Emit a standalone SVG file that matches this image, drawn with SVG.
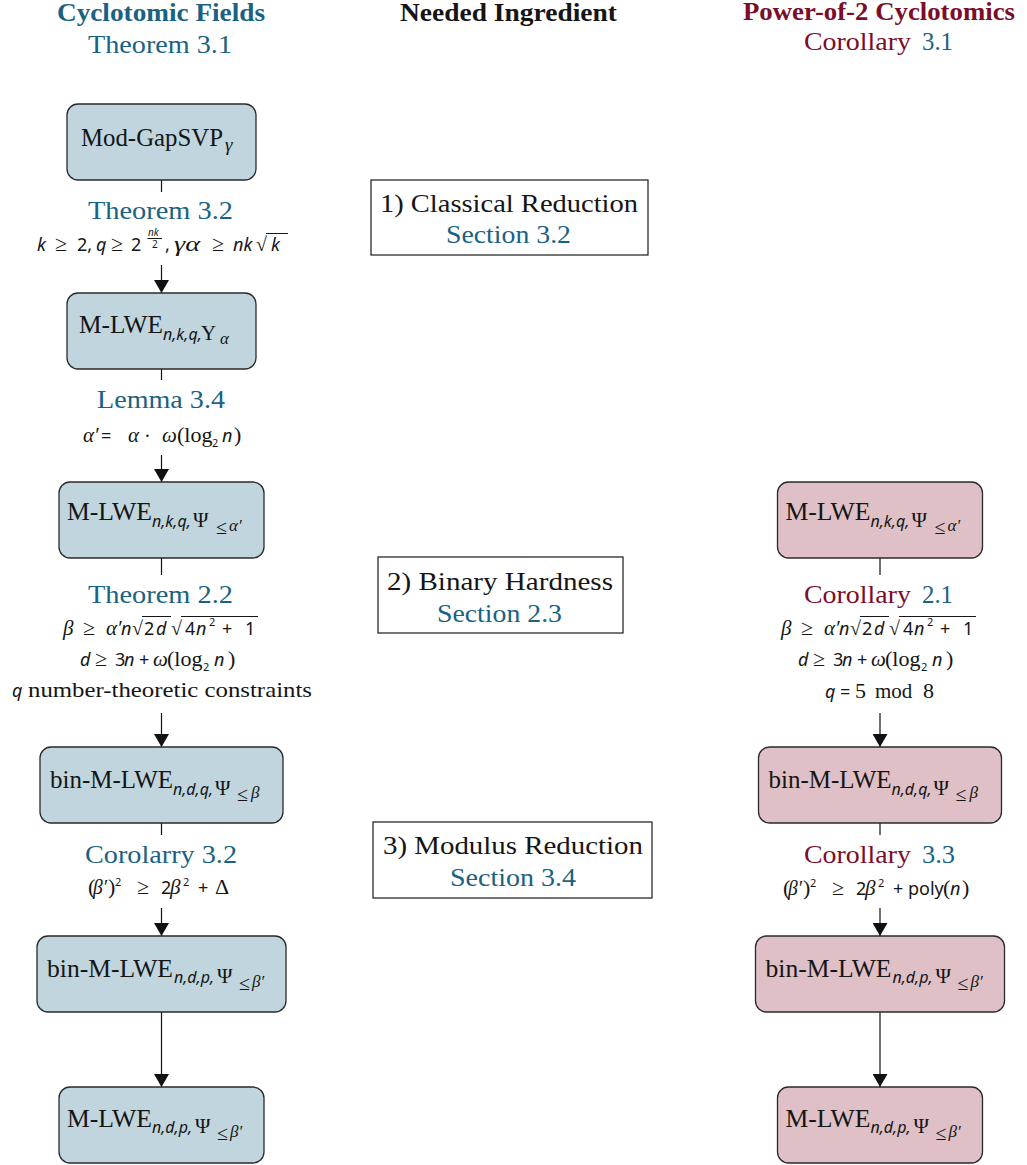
<svg xmlns="http://www.w3.org/2000/svg" width="1027" height="1165" viewBox="0 0 1027 1165" font-family="'Liberation Serif', serif">
<style>
text{fill:#151515}
.headt{font-weight:bold;font-size:25px}
.capt{font-size:25px;fill:#1a6282}
.tred{fill:#7b0d29}
.tblue{fill:#1a6282}
.ingt{font-size:25px}
.nb rect{fill:#c0d5de;stroke:#2a2a2a;stroke-width:1.3}
.np rect{fill:#dfc0c6;stroke:#2a2a2a;stroke-width:1.3}
.nodet{font-size:25px}
.subit{font-family:"Noto Sans",sans-serif;font-style:italic;font-size:16px}
.subgk{font-size:21px}
.ssubgk{font-style:italic;font-size:17px}
.ssubrm{font-size:20px}
.mathit{font-family:"Noto Sans",sans-serif;font-style:italic;font-size:18px}
.mathsf{font-family:"Noto Sans",sans-serif;font-size:18px}
.mathgk{font-style:italic;font-size:21px}
.mathrm{font-size:22px}
.supsf{font-family:"Noto Sans",sans-serif;font-size:11px}
.mid rect{fill:#ffffff;stroke:#1a1a1a;stroke-width:1.2}
.conn line{stroke:#111;stroke-width:1.2}
.ovl{stroke:#151515;stroke-width:1}
</style>
<defs>
<marker id="ah" markerUnits="userSpaceOnUse" markerWidth="15" markerHeight="15" refX="13" refY="7.5" orient="auto">
<path d="M0,0 L13,7.5 L0,15 z" fill="#111"/>
</marker>
</defs>
<rect width="1027" height="1165" fill="#ffffff"/>

<g id="headers">
<text class="headt tblue" x="57" y="21" textLength="208" lengthAdjust="spacingAndGlyphs">Cyclotomic Fields</text>
<text class="capt" x="88" y="53" textLength="144" lengthAdjust="spacingAndGlyphs">Theorem 3.1</text>
<text class="headt" x="400" y="21" textLength="217" lengthAdjust="spacingAndGlyphs">Needed Ingredient</text>
<text class="headt tred" x="743" y="20" textLength="272" lengthAdjust="spacingAndGlyphs">Power-of-2 Cyclotomics</text>
<text class="capt tred" x="804" y="50" textLength="107" lengthAdjust="spacingAndGlyphs">Corollary</text>
<text class="capt" x="922" y="50" textLength="31" lengthAdjust="spacingAndGlyphs">3.1</text>
</g>

<g id="connectors" class="conn">
<line x1="161.5" y1="180" x2="161.5" y2="192"/>
<line x1="161.5" y1="265" x2="161.5" y2="293" marker-end="url(#ah)"/>
<line x1="161.5" y1="369" x2="161.5" y2="380"/>
<line x1="161.5" y1="455" x2="161.5" y2="482" marker-end="url(#ah)"/>
<line x1="161.5" y1="558" x2="161.5" y2="575"/>
<line x1="161.5" y1="713" x2="161.5" y2="747" marker-end="url(#ah)"/>
<line x1="161.5" y1="823" x2="161.5" y2="835"/>
<line x1="161.5" y1="908" x2="161.5" y2="936" marker-end="url(#ah)"/>
<line x1="161.5" y1="1012" x2="161.5" y2="1087" marker-end="url(#ah)"/>
<line x1="880" y1="558" x2="880" y2="575"/>
<line x1="880" y1="713" x2="880" y2="747" marker-end="url(#ah)"/>
<line x1="880" y1="823" x2="880" y2="835"/>
<line x1="880" y1="908" x2="880" y2="936" marker-end="url(#ah)"/>
<line x1="880" y1="1012" x2="880" y2="1087" marker-end="url(#ah)"/>
</g>

<g id="n1" class="nb">
<rect x="67" y="104" width="189" height="76" rx="11"/>
<text class="nodet" x="81" y="146" textLength="142" lengthAdjust="spacingAndGlyphs">Mod-GapSVP</text>
<text class="mathgk" x="225" y="151" style="font-size:19px">γ</text>
</g>
<g id="n2" class="nb">
<rect x="67" y="293" width="189" height="76" rx="11"/>
<text class="nodet" x="79" y="333" textLength="84" lengthAdjust="spacingAndGlyphs">M-LWE</text>
<text class="subit" x="163" y="340">n,k,q,</text>
<text class="subgk" x="201" y="340">Υ</text>
<text class="ssubgk" x="220" y="344">α</text>
</g>
<g id="n3" class="nb">
<rect x="59" y="482" width="205" height="76" rx="11"/>
<text class="nodet" x="67" y="520" textLength="85" lengthAdjust="spacingAndGlyphs">M-LWE</text>
<text class="subit" x="152" y="527">n,k,q,</text>
<text class="subgk" x="193" y="527">Ψ</text>
<text class="ssubrm" x="216" y="534">≤</text>
<text class="ssubgk" x="229" y="531">α′</text>
</g>
<g id="n4" class="nb">
<rect x="40" y="747" width="243" height="76" rx="11"/>
<text class="nodet" x="50" y="788" textLength="123" lengthAdjust="spacingAndGlyphs">bin-M-LWE</text>
<text class="subit" x="173" y="795">n,d,q,</text>
<text class="subgk" x="215" y="795">Ψ</text>
<text class="ssubrm" x="237" y="801">≤</text>
<text class="ssubgk" x="251" y="798">β</text>
</g>
<g id="n5" class="nb">
<rect x="37" y="936" width="249" height="76" rx="11"/>
<text class="nodet" x="47" y="977" textLength="126" lengthAdjust="spacingAndGlyphs">bin-M-LWE</text>
<text class="subit" x="174" y="983">n,d,p,</text>
<text class="subgk" x="217" y="983">Ψ</text>
<text class="ssubrm" x="239" y="990">≤</text>
<text class="ssubgk" x="252" y="987">β′</text>
</g>
<g id="n6" class="nb">
<rect x="59" y="1087" width="205" height="76" rx="11"/>
<text class="nodet" x="67" y="1127" textLength="85" lengthAdjust="spacingAndGlyphs">M-LWE</text>
<text class="subit" x="152" y="1133">n,d,p,</text>
<text class="subgk" x="195" y="1133">Ψ</text>
<text class="ssubrm" x="217" y="1140">≤</text>
<text class="ssubgk" x="230" y="1137">β′</text>
</g>

<g id="r3" class="np" transform="translate(718.5,0)">
<rect x="59" y="482" width="205" height="76" rx="11"/>
<text class="nodet" x="67" y="520" textLength="85" lengthAdjust="spacingAndGlyphs">M-LWE</text>
<text class="subit" x="152" y="527">n,k,q,</text>
<text class="subgk" x="193" y="527">Ψ</text>
<text class="ssubrm" x="216" y="534">≤</text>
<text class="ssubgk" x="229" y="531">α′</text>
</g>
<g id="r4" class="np" transform="translate(718.5,0)">
<rect x="40" y="747" width="243" height="76" rx="11"/>
<text class="nodet" x="50" y="788" textLength="123" lengthAdjust="spacingAndGlyphs">bin-M-LWE</text>
<text class="subit" x="173" y="795">n,d,q,</text>
<text class="subgk" x="215" y="795">Ψ</text>
<text class="ssubrm" x="237" y="801">≤</text>
<text class="ssubgk" x="251" y="798">β</text>
</g>
<g id="r5" class="np" transform="translate(718.5,0)">
<rect x="37" y="936" width="249" height="76" rx="11"/>
<text class="nodet" x="47" y="977" textLength="126" lengthAdjust="spacingAndGlyphs">bin-M-LWE</text>
<text class="subit" x="174" y="983">n,d,p,</text>
<text class="subgk" x="217" y="983">Ψ</text>
<text class="ssubrm" x="239" y="990">≤</text>
<text class="ssubgk" x="252" y="987">β′</text>
</g>
<g id="r6" class="np" transform="translate(718.5,0)">
<rect x="59" y="1087" width="205" height="76" rx="11"/>
<text class="nodet" x="67" y="1127" textLength="85" lengthAdjust="spacingAndGlyphs">M-LWE</text>
<text class="subit" x="152" y="1133">n,d,p,</text>
<text class="subgk" x="195" y="1133">Ψ</text>
<text class="ssubrm" x="217" y="1140">≤</text>
<text class="ssubgk" x="230" y="1137">β′</text>
</g>

<g id="ing1" class="mid">
<rect x="371" y="180" width="277" height="75"/>
<text class="ingt" x="380" y="212" textLength="258" lengthAdjust="spacingAndGlyphs">1) Classical Reduction</text>
<text class="capt" x="446" y="243" textLength="125" lengthAdjust="spacingAndGlyphs">Section 3.2</text>
</g>
<g id="ing2" class="mid">
<rect x="378" y="557" width="245" height="76"/>
<text class="ingt" x="387" y="590" textLength="226" lengthAdjust="spacingAndGlyphs">2) Binary Hardness</text>
<text class="capt" x="437" y="622" textLength="125" lengthAdjust="spacingAndGlyphs">Section 2.3</text>
</g>
<g id="ing3" class="mid">
<rect x="373" y="822" width="279" height="76"/>
<text class="ingt" x="383" y="854" textLength="260" lengthAdjust="spacingAndGlyphs">3) Modulus Reduction</text>
<text class="capt" x="450" y="886" textLength="126" lengthAdjust="spacingAndGlyphs">Section 3.4</text>
</g>

<g id="lab-thm32">
<text class="capt" x="88" y="219" textLength="145" lengthAdjust="spacingAndGlyphs">Theorem 3.2</text>
<text class="mathit" x="37" y="251">k</text>
<text class="mathrm" x="55" y="251">≥</text>
<text class="mathsf" x="77" y="251">2,</text>
<text class="mathit" x="96" y="251">q</text>
<text class="mathrm" x="111" y="251">≥</text>
<text class="mathsf" x="131" y="251">2</text>
<text class="subit" x="148" y="236" style="font-size:10px">nk</text>
<line class="ovl" x1="147.5" y1="238.5" x2="162" y2="238.5"/>
<text class="supsf" x="152" y="248" style="font-size:10px">2</text>
<text class="mathsf" x="165" y="251">,</text>
<text class="mathgk" x="174" y="251" textLength="26" lengthAdjust="spacingAndGlyphs">γα</text>
<text class="mathrm" x="212" y="251">≥</text>
<text class="mathit" x="233" y="251">nk</text>
<text class="mathrm" x="256" y="251" style="font-size:20px">√</text>
<line class="ovl" x1="266" y1="233.5" x2="288" y2="233.5"/>
<text class="mathit" x="271" y="251">k</text>
</g>
<g id="lab-lem34">
<text class="capt" x="97" y="408" textLength="128" lengthAdjust="spacingAndGlyphs">Lemma 3.4</text>
<text class="mathgk" x="83" y="442">α′</text>
<text class="mathsf" x="101" y="442">=</text>
<text class="mathgk" x="128" y="442">α</text>
<text class="mathsf" x="145" y="442">·</text>
<text class="mathgk" x="162" y="442">ω</text>
<text class="mathrm" x="177" y="442">(log</text>
<text class="supsf" x="212" y="447">2</text>
<text class="mathit" x="222" y="442">n</text>
<text class="mathrm" x="234" y="442">)</text>
</g>
<g id="lab-thm22">
<text class="capt" x="88" y="603" textLength="145" lengthAdjust="spacingAndGlyphs">Theorem 2.2</text>
<text class="mathgk" x="63" y="635">β</text>
<text class="mathrm" x="83" y="635">≥</text>
<text class="mathgk" x="106" y="635">α′</text>
<text class="mathit" x="121" y="635">n</text>
<text class="mathrm" x="132" y="635" style="font-size:20px">√</text>
<line class="ovl" x1="142" y1="616.5" x2="171" y2="616.5"/>
<text class="mathsf" x="144" y="635">2</text>
<text class="mathit" x="156" y="635">d</text>
<text class="mathrm" x="171" y="635" style="font-size:20px">√</text>
<line class="ovl" x1="181" y1="616.5" x2="258" y2="616.5"/>
<text class="mathsf" x="185" y="635">4</text>
<text class="mathit" x="196" y="635">n</text>
<text class="supsf" x="209" y="626">2</text>
<text class="mathsf" x="222" y="635">+</text>
<text class="mathsf" x="245" y="635">1</text>
<text class="mathit" x="80" y="666">d</text>
<text class="mathrm" x="95" y="666">≥</text>
<text class="mathsf" x="115" y="666">3</text>
<text class="mathit" x="124" y="666">n</text>
<text class="mathsf" x="139" y="666">+</text>
<text class="mathgk" x="153" y="666">ω</text>
<text class="mathrm" x="167" y="666">(log</text>
<text class="supsf" x="203" y="671">2</text>
<text class="mathit" x="214" y="666">n</text>
<text class="mathrm" x="228" y="666">)</text>
<text class="mathit" x="12" y="697">q</text>
<text class="mathrm" x="28" y="697" textLength="284" lengthAdjust="spacingAndGlyphs">number-theoretic constraints</text>
</g>
<g id="lab-cor32">
<text class="capt" x="85" y="863" textLength="152" lengthAdjust="spacingAndGlyphs">Corolarry 3.2</text>
<text class="mathrm" x="88" y="894">(</text>
<text class="mathgk" x="93" y="894" textLength="14" lengthAdjust="spacingAndGlyphs">β′</text>
<text class="mathrm" x="108" y="894">)</text>
<text class="supsf" x="115" y="886">2</text>
<text class="mathrm" x="137" y="894">≥</text>
<text class="mathsf" x="161" y="894">2</text>
<text class="mathgk" x="170" y="894">β</text>
<text class="supsf" x="183" y="886">2</text>
<text class="mathsf" x="198" y="894">+</text>
<text class="mathrm" x="215" y="894">Δ</text>
</g>

<g id="lab-cor21">
<text class="capt tred" x="804" y="603" textLength="107" lengthAdjust="spacingAndGlyphs">Corollary</text>
<text class="capt" x="922" y="603" textLength="31" lengthAdjust="spacingAndGlyphs">2.1</text>
<g transform="translate(718,0)">
<text class="mathgk" x="63" y="635">β</text>
<text class="mathrm" x="83" y="635">≥</text>
<text class="mathgk" x="106" y="635">α′</text>
<text class="mathit" x="121" y="635">n</text>
<text class="mathrm" x="132" y="635" style="font-size:20px">√</text>
<line class="ovl" x1="142" y1="616.5" x2="171" y2="616.5"/>
<text class="mathsf" x="144" y="635">2</text>
<text class="mathit" x="156" y="635">d</text>
<text class="mathrm" x="171" y="635" style="font-size:20px">√</text>
<line class="ovl" x1="181" y1="616.5" x2="258" y2="616.5"/>
<text class="mathsf" x="185" y="635">4</text>
<text class="mathit" x="196" y="635">n</text>
<text class="supsf" x="209" y="626">2</text>
<text class="mathsf" x="222" y="635">+</text>
<text class="mathsf" x="245" y="635">1</text>
<text class="mathit" x="80" y="666">d</text>
<text class="mathrm" x="95" y="666">≥</text>
<text class="mathsf" x="115" y="666">3</text>
<text class="mathit" x="124" y="666">n</text>
<text class="mathsf" x="139" y="666">+</text>
<text class="mathgk" x="153" y="666">ω</text>
<text class="mathrm" x="167" y="666">(log</text>
<text class="supsf" x="203" y="671">2</text>
<text class="mathit" x="214" y="666">n</text>
<text class="mathrm" x="228" y="666">)</text>
</g>
<text class="mathit" x="825" y="698">q</text>
<text class="mathsf" x="840" y="698">=</text>
<text class="mathrm" x="855" y="698">5</text>
<text class="mathrm" x="875" y="698" style="font-size:21px">mod</text>
<text class="mathrm" x="923" y="698">8</text>
</g>
<g id="lab-cor33">
<text class="capt tred" x="804" y="863" textLength="107" lengthAdjust="spacingAndGlyphs">Corollary</text>
<text class="capt" x="922" y="863" textLength="33" lengthAdjust="spacingAndGlyphs">3.3</text>
<text class="mathrm" x="783" y="895">(</text>
<text class="mathgk" x="788" y="895" textLength="14" lengthAdjust="spacingAndGlyphs">β′</text>
<text class="mathrm" x="803" y="895">)</text>
<text class="supsf" x="810" y="887">2</text>
<text class="mathrm" x="832" y="895">≥</text>
<text class="mathsf" x="856" y="895">2</text>
<text class="mathgk" x="865" y="895">β</text>
<text class="supsf" x="878" y="887">2</text>
<text class="mathsf" x="893" y="895">+</text>
<text class="mathsf" x="908" y="895">poly</text>
<text class="mathrm" x="943" y="895">(</text>
<text class="mathit" x="950" y="895">n</text>
<text class="mathrm" x="962" y="895">)</text>
</g>
</svg>
